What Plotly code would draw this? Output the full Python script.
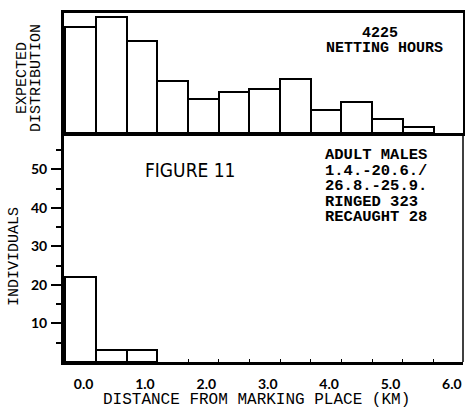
import plotly.graph_objects as go
from plotly.subplots import make_subplots

# ---- data ----
expected_x = [0.0, 0.5, 1.0, 1.5, 2.0, 2.5, 3.0, 3.5, 4.0, 4.5, 5.0, 5.5]
expected_vals = [106, 116, 92, 52, 34, 41, 44, 54, 23, 31, 14, 6]
recaught_x = [0.0, 0.5, 1.0]
recaught_vals = [22, 3, 3]
x_tick_vals = [0, 1, 2, 3, 4, 5, 6]
x_tick_text = ["0.0", "1.0", "2.0", "3.0", "4.0", "5.0", "6.0"]
y_tick_vals = [10, 20, 30, 40, 50]
info_lines = ["ADULT MALES", "1.4.-20.6./", "26.8.-25.9.", "RINGED 323", "RECAUGHT 28"]

W, H = 465, 417
L, R, T, B = 64, 2, 13, 55
PW, PH = W - L - R, H - T - B
split = 1 - 120 / PH


def px(x):
    return (x - L) / PW


def py(y):
    return (H - B - y) / PH


fig = make_subplots(rows=2, cols=1, shared_xaxes=True, vertical_spacing=0)

fig.add_trace(go.Bar(x=expected_x, y=expected_vals, width=0.5,
                     marker=dict(color="white", line=dict(color="black", width=2)),
                     showlegend=False), row=1, col=1)
fig.add_trace(go.Bar(x=recaught_x, y=recaught_vals, width=0.5,
                     marker=dict(color="white", line=dict(color="black", width=2)),
                     showlegend=False), row=2, col=1)

fig.update_layout(
    width=W, height=H,
    margin=dict(l=L, r=R, t=T, b=B, autoexpand=False),
    paper_bgcolor="white", plot_bgcolor="white",
    bargap=0,
    font=dict(family="Liberation Mono, monospace", color="black"),
)

fig.update_xaxes(range=[-0.27, 6.23], showgrid=False, zeroline=False, automargin=False)
fig.update_yaxes(automargin=False)
fig.update_layout(
    xaxis=dict(showline=True, linecolor="black", linewidth=3, mirror=True,
               showticklabels=False, ticks=""),
    yaxis=dict(domain=[split, 1], range=[0, 120], showline=True, linecolor="black",
               linewidth=3, mirror=True, showticklabels=False, ticks="",
               showgrid=False, zeroline=False),
    xaxis2=dict(showline=True, linecolor="black", linewidth=3,
                tickmode="array", tickvals=x_tick_vals, ticktext=x_tick_text,
                ticks="", ticklabelstandoff=7, ticklabelshift=3,
                tickfont=dict(family="Lato, DejaVu Sans, sans-serif", size=14, weight="bold"),
                minor=dict(ticks="inside", ticklen=3, tickwidth=1, tickcolor="black",
                           tick0=0.25, dtick=0.5)),
    yaxis2=dict(domain=[0, split], range=[0, 59.4], showline=True, linecolor="black",
                linewidth=3, showgrid=False, zeroline=False,
                tickmode="array", tickvals=y_tick_vals, ticks="outside", ticklen=10,
                tickwidth=1.5, tickcolor="black", ticklabelstandoff=1,
                tickfont=dict(family="Lato, DejaVu Sans, sans-serif", size=14, weight="bold"),
                minor=dict(ticks="outside", ticklen=5, tickwidth=1.5, tickcolor="black",
                           tick0=5, dtick=10)),
)

# right edge of lower panel (thinner)
fig.add_shape(type="line", xref="paper", yref="paper", x0=1, x1=1, y0=0, y1=split,
              line=dict(color="black", width=1.5))

ann = []
mono = "Liberation Mono, DejaVu Sans Mono, monospace"
ann.append(dict(text="4225", x=px(380), y=py(33), font=dict(family=mono, size=15, weight="bold")))
ann.append(dict(text="NETTING HOURS", x=px(384), y=py(48), font=dict(family=mono, size=15, weight="bold")))
ann.append(dict(text="FIGURE 11", x=px(190), y=py(170),
                font=dict(family="DejaVu Sans Condensed, DejaVu Sans, sans-serif", size=19)))
for i, line in enumerate(info_lines):
    ann.append(dict(text=line, x=px(323), y=py(155 + 15.6 * i), xanchor="left",
                    font=dict(family=mono, size=15.5, weight="bold")))
ann.append(dict(text="EXPECTED", x=px(23), y=py(78), textangle=-90, font=dict(family=mono, size=15)))
ann.append(dict(text="DISTRIBUTION", x=px(37), y=py(78), textangle=-90, font=dict(family=mono, size=15)))
ann.append(dict(text="INDIVIDUALS", x=px(14), y=py(257), textangle=-90, font=dict(family=mono, size=15)))
ann.append(dict(text="DISTANCE FROM MARKING PLACE (KM)", x=px(256), y=py(400),
                font=dict(family=mono, size=16)))
for a in ann:
    a.setdefault("xanchor", "center")
    a.update(xref="paper", yref="paper", yanchor="middle", showarrow=False)
fig.update_layout(annotations=ann)

fig.write_html("out.html", config={"displayModeBar": False},
               post_script="document.body.style.margin='0';document.body.style.overflow='hidden';")
